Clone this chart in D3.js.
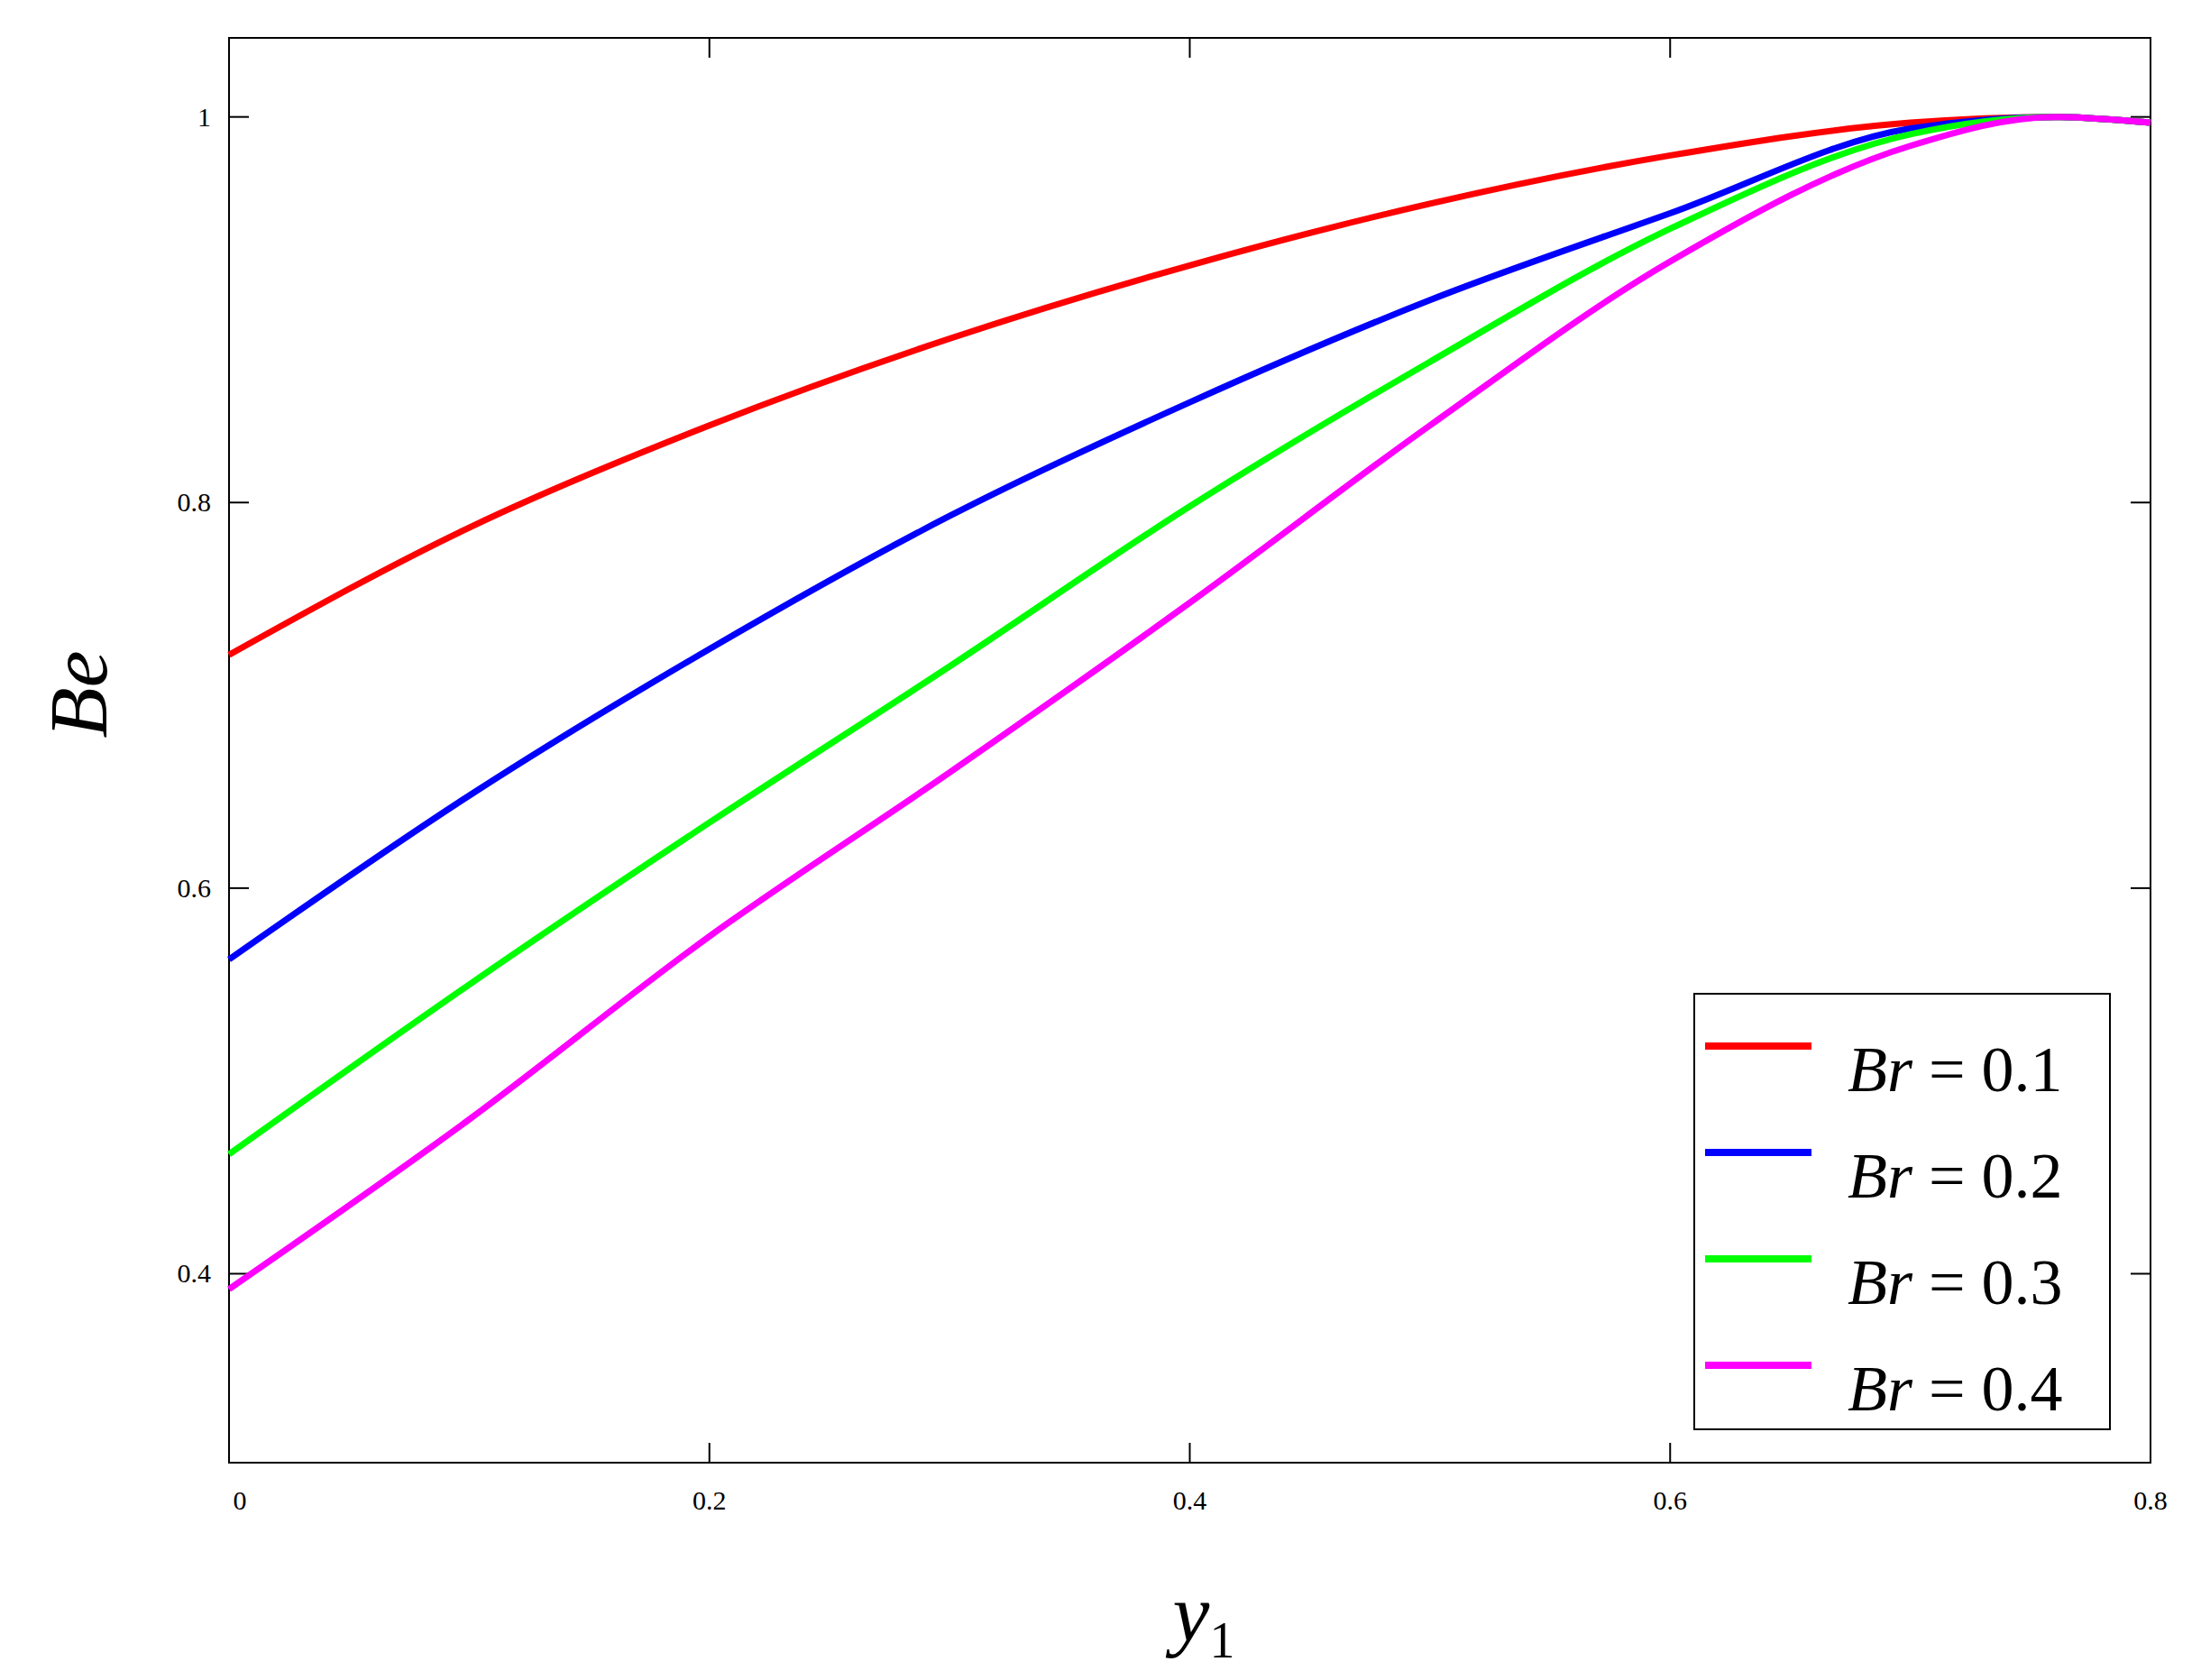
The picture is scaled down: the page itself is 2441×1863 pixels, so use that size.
<!DOCTYPE html>
<html>
<head>
<meta charset="utf-8">
<script src="https://cdn.jsdelivr.net/npm/d3@7"></script>
<style>
  body { margin: 0; background: #fff; }
  text { font-family: "Liberation Serif", "DejaVu Serif", serif; }
</style>
</head>
<body>
<svg id="chart" width="2441" height="1863"></svg>
<script>
const xValues = [0, 0.1, 0.2, 0.3, 0.4, 0.5, 0.6, 0.7, 0.76, 0.8];
const br01 = [0.721, 0.787, 0.840, 0.885, 0.923, 0.955, 0.980, 0.997, 1.000, 0.997];
const br02 = [0.563, 0.648, 0.724, 0.793, 0.852, 0.905, 0.950, 0.994, 1.000, 0.997];
const br03 = [0.462, 0.550, 0.634, 0.715, 0.798, 0.873, 0.942, 0.991, 1.000, 0.997];
const br04 = [0.392, 0.480, 0.575, 0.660, 0.748, 0.840, 0.925, 0.985, 1.000, 0.997];
const seriesNames = ['0.1', '0.2', '0.3', '0.4'];
const seriesColors = ['#ff0000', '#0000ff', '#00ff00', '#ff00ff'];
const xTicks = [0, 0.2, 0.4, 0.6, 0.8];
const yTicks = [0.4, 0.6, 0.8, 1];

const svg = d3.select('#chart');
const margin = { left: 254, right: 2441 - 2385, top: 42, bottom: 1863 - 1622 };
const width = 2385 - 254, height = 1622 - 42;
const g = svg.append('g').attr('transform', `translate(${margin.left},${margin.top})`);

const x = d3.scaleLinear().domain([0, 0.8]).range([0, width]);
const y = d3.scaleLinear().domain([0.302, 1.041]).range([height, 0]);

// frame
g.append('rect').attr('width', width).attr('height', height)
  .attr('fill', 'none').attr('stroke', '#000').attr('stroke-width', 2);

// inward ticks on all sides
const tk = 22;
xTicks.forEach(t => {
  g.append('line').attr('x1', x(t)).attr('x2', x(t)).attr('y1', height).attr('y2', height - tk).attr('stroke', '#000').attr('stroke-width', 2);
  g.append('line').attr('x1', x(t)).attr('x2', x(t)).attr('y1', 0).attr('y2', tk).attr('stroke', '#000').attr('stroke-width', 2);
  g.append('text').attr('x', x(t) + (t === 0 ? 12 : 0)).attr('y', height + 52)
    .attr('text-anchor', 'middle').attr('font-size', 30).text(d3.format('')(t));
});
yTicks.forEach(t => {
  g.append('line').attr('x1', 0).attr('x2', tk).attr('y1', y(t)).attr('y2', y(t)).attr('stroke', '#000').attr('stroke-width', 2);
  g.append('line').attr('x1', width).attr('x2', width - tk).attr('y1', y(t)).attr('y2', y(t)).attr('stroke', '#000').attr('stroke-width', 2);
  g.append('text').attr('x', -20).attr('y', y(t) + 10)
    .attr('text-anchor', 'end').attr('font-size', 30).text(d3.format('')(t));
});

// curves
const line = d3.line().x((d, i) => x(xValues[i])).y(d => y(d)).curve(d3.curveMonotoneX);
[br01, br02, br03, br04].forEach((s, i) => {
  g.append('path').datum(s).attr('d', line).attr('fill', 'none')
    .attr('stroke', seriesColors[i]).attr('stroke-width', 7);
});

// axis labels
svg.append('text').attr('x', 1335).attr('y', 1820).attr('text-anchor', 'middle')
  .attr('font-size', 92).attr('font-style', 'italic')
  .html('y<tspan font-size="56" font-style="normal" dy="18">1</tspan>');
svg.append('text').attr('transform', 'translate(118,770) rotate(-90)')
  .attr('text-anchor', 'middle').attr('font-size', 92).attr('font-style', 'italic').text('Be');

// legend
const lg = svg.append('g').attr('transform', 'translate(1879,1102)');
lg.append('rect').attr('width', 461).attr('height', 483).attr('fill', '#fff')
  .attr('stroke', '#000').attr('stroke-width', 2);
seriesNames.forEach((n, i) => {
  const yy = 58 + i * 118;
  lg.append('line').attr('x1', 12).attr('x2', 130).attr('y1', yy).attr('y2', yy)
    .attr('stroke', seriesColors[i]).attr('stroke-width', 8);
  lg.append('text').attr('x', 170).attr('y', yy + 50).attr('font-size', 72)
    .html(`<tspan font-style="italic">Br</tspan> = ${n}`);
});
</script>
</body>
</html>
